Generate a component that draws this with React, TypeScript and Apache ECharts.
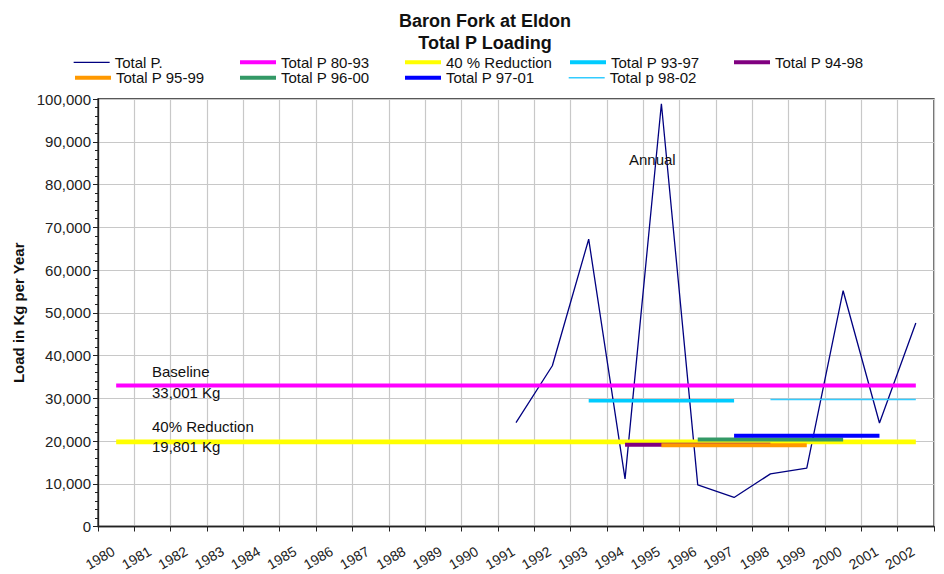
import React, { useEffect, useRef } from "react";
import * as echarts from "echarts";

const years = [
  "1980", "1981", "1982", "1983", "1984", "1985", "1986", "1987", "1988", "1989", "1990",
  "1991", "1992", "1993", "1994", "1995", "1996", "1997", "1998", "1999", "2000", "2001", "2002",
];

// Annual Total P (kg/yr), 1991-2002
const totalPYears = ["1991", "1992", "1993", "1994", "1995", "1996", "1997", "1998", "1999", "2000", "2001", "2002"];
const totalPValues = [24300, 37600, 67200, 11150, 98900, 9750, 6800, 12300, 13650, 55150, 24200, 47600];

// Period averages: [value, first year, last year]
const baseline8093 = [33001, "1980", "2002"];
const reduction40 = [19801, "1980", "2002"];
const avg9397 = [29400, "1993", "1997"];
const avg9498 = [19150, "1994", "1998"];
const avg9599 = [19000, "1995", "1999"];
const avg9600 = [20350, "1996", "2000"];
const avg9701 = [21200, "1997", "2001"];
const avg9802 = [29700, "1998", "2002"];

const yTicks = [0, 10000, 20000, 30000, 40000, 50000, 60000, 70000, 80000, 90000, 100000];

const FONT = "Liberation Sans, Arial, sans-serif";

function annual(): (number | null)[] {
  return years.map((y) => {
    const i = totalPYears.indexOf(y);
    return i >= 0 ? totalPValues[i] : null;
  });
}

function span(def: any[]): (number | null)[] {
  const [v, a, b] = def;
  const ia = years.indexOf(a);
  const ib = years.indexOf(b);
  return years.map((_, i) => (i >= ia && i <= ib ? v : null));
}

const seriesDefs = [
  { name: "Total P.", data: annual(), color: "#000080", width: 1.3, legendW: 1.3 },
  { name: "Total P 80-93", data: span(baseline8093), color: "#FF00FF", width: 4, legendW: 4 },
  { name: "40 % Reduction", data: span(reduction40), color: "#FFFF00", width: 4.8, legendW: 4 },
  { name: "Total P 93-97", data: span(avg9397), color: "#00CCFF", width: 3.5, legendW: 4 },
  { name: "Total P 94-98", data: span(avg9498), color: "#800080", width: 4, legendW: 4 },
  { name: "Total P 95-99", data: span(avg9599), color: "#FF9900", width: 4, legendW: 4 },
  { name: "Total P 96-00", data: span(avg9600), color: "#339966", width: 4, legendW: 4 },
  { name: "Total P 97-01", data: span(avg9701), color: "#0000FF", width: 4, legendW: 4 },
  { name: "Total p 98-02", data: span(avg9802), color: "#33CCFF", width: 1.4, legendW: 1.4 },
];

const legendCols = [73, 238, 403, 568, 732];
const legendRows = [54.8, 70.2];

export default function App() {
  const ref = useRef<HTMLDivElement>(null);
  useEffect(() => {
    if (!ref.current) return;
    const chart = echarts.init(ref.current, undefined, { renderer: "svg" });
    const legends = seriesDefs.map((s, i) => ({
      data: [{ name: s.name, lineStyle: { width: s.legendW }, itemStyle: { opacity: 0, borderWidth: 0 } }],
      left: legendCols[i % 5],
      top: legendRows[Math.floor(i / 5)],
      orient: "horizontal",
      padding: 0,
      itemGap: 0,
      itemWidth: 36,
      itemHeight: 14,
      selectedMode: false,
      textStyle: { fontFamily: FONT, fontSize: 15, color: "#111", lineHeight: 15 },
    }));
    chart.setOption({
      animation: false,
      backgroundColor: "#fff",
      textStyle: { fontFamily: FONT },
      title: {
        text: "Baron Fork at Eldon\nTotal P Loading",
        left: 485,
        top: 9.5,
        padding: 0,
        textAlign: "center",
        textStyle: { fontFamily: FONT, fontSize: 18, fontWeight: "bold", color: "#111", lineHeight: 22 },
      },
      legend: legends,
      grid: {
        left: 98,
        right: 10,
        top: 99,
        height: 427.5,
        containLabel: false,
        outerBoundsMode: "none",
        show: true,
        borderColor: "#222",
        borderWidth: 1.3,
        backgroundColor: "transparent",
      },
      xAxis: {
        type: "category",
        data: years,
        boundaryGap: true,
        axisLine: { lineStyle: { color: "#222", width: 1.3 } },
        axisTick: { show: true, interval: 0, length: 5, lineStyle: { color: "#222" } },
        axisLabel: { interval: 0, rotate: 30, fontSize: 14, color: "#222", fontFamily: FONT, margin: 22, padding: [0, 3, 0, 0] },
        splitLine: { show: true, interval: 0, lineStyle: { color: "#c8c8c8", width: 1.2 } },
      },
      yAxis: {
        type: "value",
        min: yTicks[0],
        max: yTicks[yTicks.length - 1],
        interval: yTicks[1] - yTicks[0],
        name: "Load in Kg per Year",
        nameLocation: "middle",
        nameGap: 70,
        nameTextStyle: { fontFamily: FONT, fontSize: 15, fontWeight: "bold", color: "#111" },
        axisLine: { show: true, lineStyle: { color: "#222", width: 1.3 } },
        axisTick: { show: true, length: 5, lineStyle: { color: "#222" } },
        minorTick: { show: true, splitNumber: 5, length: 3, lineStyle: { color: "#222" } },
        axisLabel: {
          fontSize: 15,
          color: "#222",
          fontFamily: FONT,
          margin: 7,
          formatter: (v: number) => v.toLocaleString("en-US"),
        },
        splitLine: { show: true, lineStyle: { color: "#c8c8c8", width: 1.2 } },
      },
      series: seriesDefs.map((s, i) => ({
        name: s.name,
        type: "line",
        data: s.data,
        symbol: "none",
        showSymbol: false,
        connectNulls: false,
        color: s.color,
        lineStyle: { color: s.color, width: s.width },
        z: 2 + i,
      })),
      graphic: [
        { type: "text", left: 152, top: 364, style: { text: "Baseline", font: `15px ${FONT}`, fill: "#111" }, z: 100 },
        { type: "text", left: 152, top: 385, style: { text: "33,001 Kg", font: `15px ${FONT}`, fill: "#111" }, z: 100 },
        { type: "text", left: 152, top: 419, style: { text: "40% Reduction", font: `15px ${FONT}`, fill: "#111" }, z: 100 },
        { type: "text", left: 152, top: 439, style: { text: "19,801 Kg", font: `15px ${FONT}`, fill: "#111" }, z: 100 },
        { type: "text", left: 629, top: 152, style: { text: "Annual", font: `15px ${FONT}`, fill: "#111" }, z: 100 },
      ],
    });
    return () => chart.dispose();
  }, []);
  return <div ref={ref} style={{ width: 944, height: 574, position: "absolute", left: 0, top: 0 }} />;
}
